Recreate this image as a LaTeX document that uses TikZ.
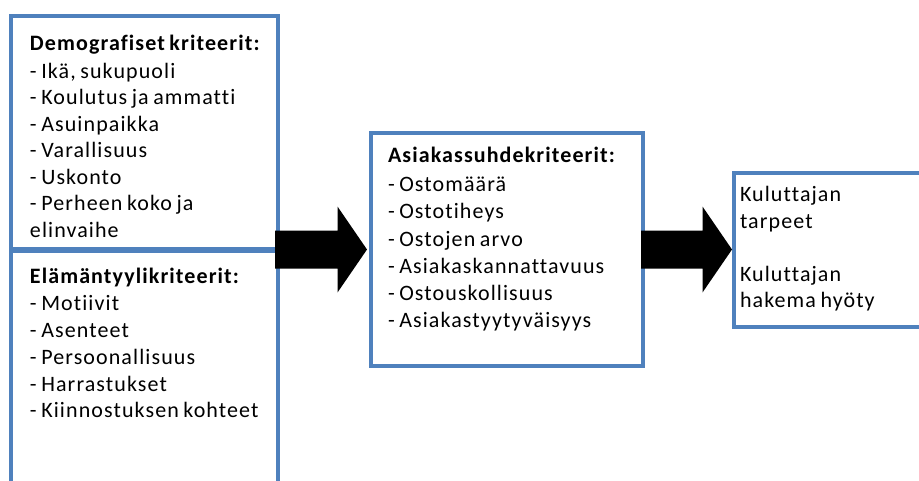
\documentclass[tikz,border=0pt]{standalone}
\usepackage{fontspec}
\setmainfont{Carlito}[LetterSpace=5,Ligatures=NoCommon,WordSpace=0.75]
\usetikzlibrary{calc}
\definecolor{boxblue}{HTML}{4F81BD}
\tikzset{
  critbox/.style={draw=boxblue, line width=3.5pt, rectangle, inner sep=0pt, outer sep=0pt, anchor=north west},
  crittext/.style={anchor=north west, inner sep=0pt, outer sep=0pt, align=left, text=black,
     font=\fontsize{22}{26.5}\selectfont},
  blockarrow/.style={fill=black}
}
\newcommand{\drawblockarrow}[2]{%
  \fill[blockarrow] let \p1=(#1), \p2=(#2) in
    (\x1,\y1+19pt) -- (\x2-29.5pt,\y1+19pt) -- (\x2-29.5pt,\y1+43pt) -- (\x2,\y1)
    -- (\x2-29.5pt,\y1-43pt) -- (\x2-29.5pt,\y1-19pt) -- (\x1,\y1-19pt) -- cycle;}
\begin{document}
\begin{tikzpicture}[x=1pt,y=-1pt]
\useasboundingbox (0,0) rectangle (919,480);
\fill[white] (0,0) rectangle (919,480);
\clip (0,0) rectangle (919,480);

% boxes
\node[critbox, minimum width=267pt, minimum height=232.5pt] (demo) at (11,16) {};
\node[critbox, minimum width=267pt, minimum height=260pt] (elam) at (11,251) {};
\node[critbox, minimum width=272pt, minimum height=233pt] (asiakas) at (371,133) {};
\node[critbox, minimum width=210pt, minimum height=154pt] (kulut) at (734,173) {};

% texts
\node[crittext] (demotxt) at (30,35) {\textbf{Demografiset kriteerit:}\\[1.5pt]
- Ikä, sukupuoli\\- Koulutus ja ammatti\\- Asuinpaikka\\- Varallisuus\\- Uskonto\\- Perheen koko ja\\elinvaihe};
\node[crittext, font=\fontsize{22}{26.8}\selectfont] (elamtxt) at (30,268) {\textbf{Elämäntyylikriteerit:}\\[0.5pt]
- Motiivit\\- Asenteet\\- Persoonallisuus\\- Harrastukset\\- Kiinnostuksen kohteet};
\node[crittext, font=\fontsize{22}{27.2}\selectfont] (asiakastxt) at (388,147.5) {\textbf{Asiakassuhdekriteerit:}\\[1.5pt]
- Ostomäärä\\- Ostotiheys\\- Ostojen arvo\\- Asiakaskannattavuus\\- Ostouskollisuus\\- Asiakastyytyväisyys};
\node[crittext] (kuluttxt) at (740,186.5) {Kuluttajan\\tarpeet\\[26.5pt]Kuluttajan\\hakema hyöty};

% arrows
\coordinate (a1s) at ([xshift=-3pt]demo.east |- asiakas.west);
\coordinate (a1e) at ([xshift=-4pt]asiakas.west);
\coordinate (a2s) at ([xshift=-2pt]asiakas.east);
\coordinate (a2e) at ([xshift=-2pt]kulut.west |- asiakas.east);
\drawblockarrow{a1s}{a1e}
\drawblockarrow{a2s}{a2e}
\end{tikzpicture}
\end{document}
